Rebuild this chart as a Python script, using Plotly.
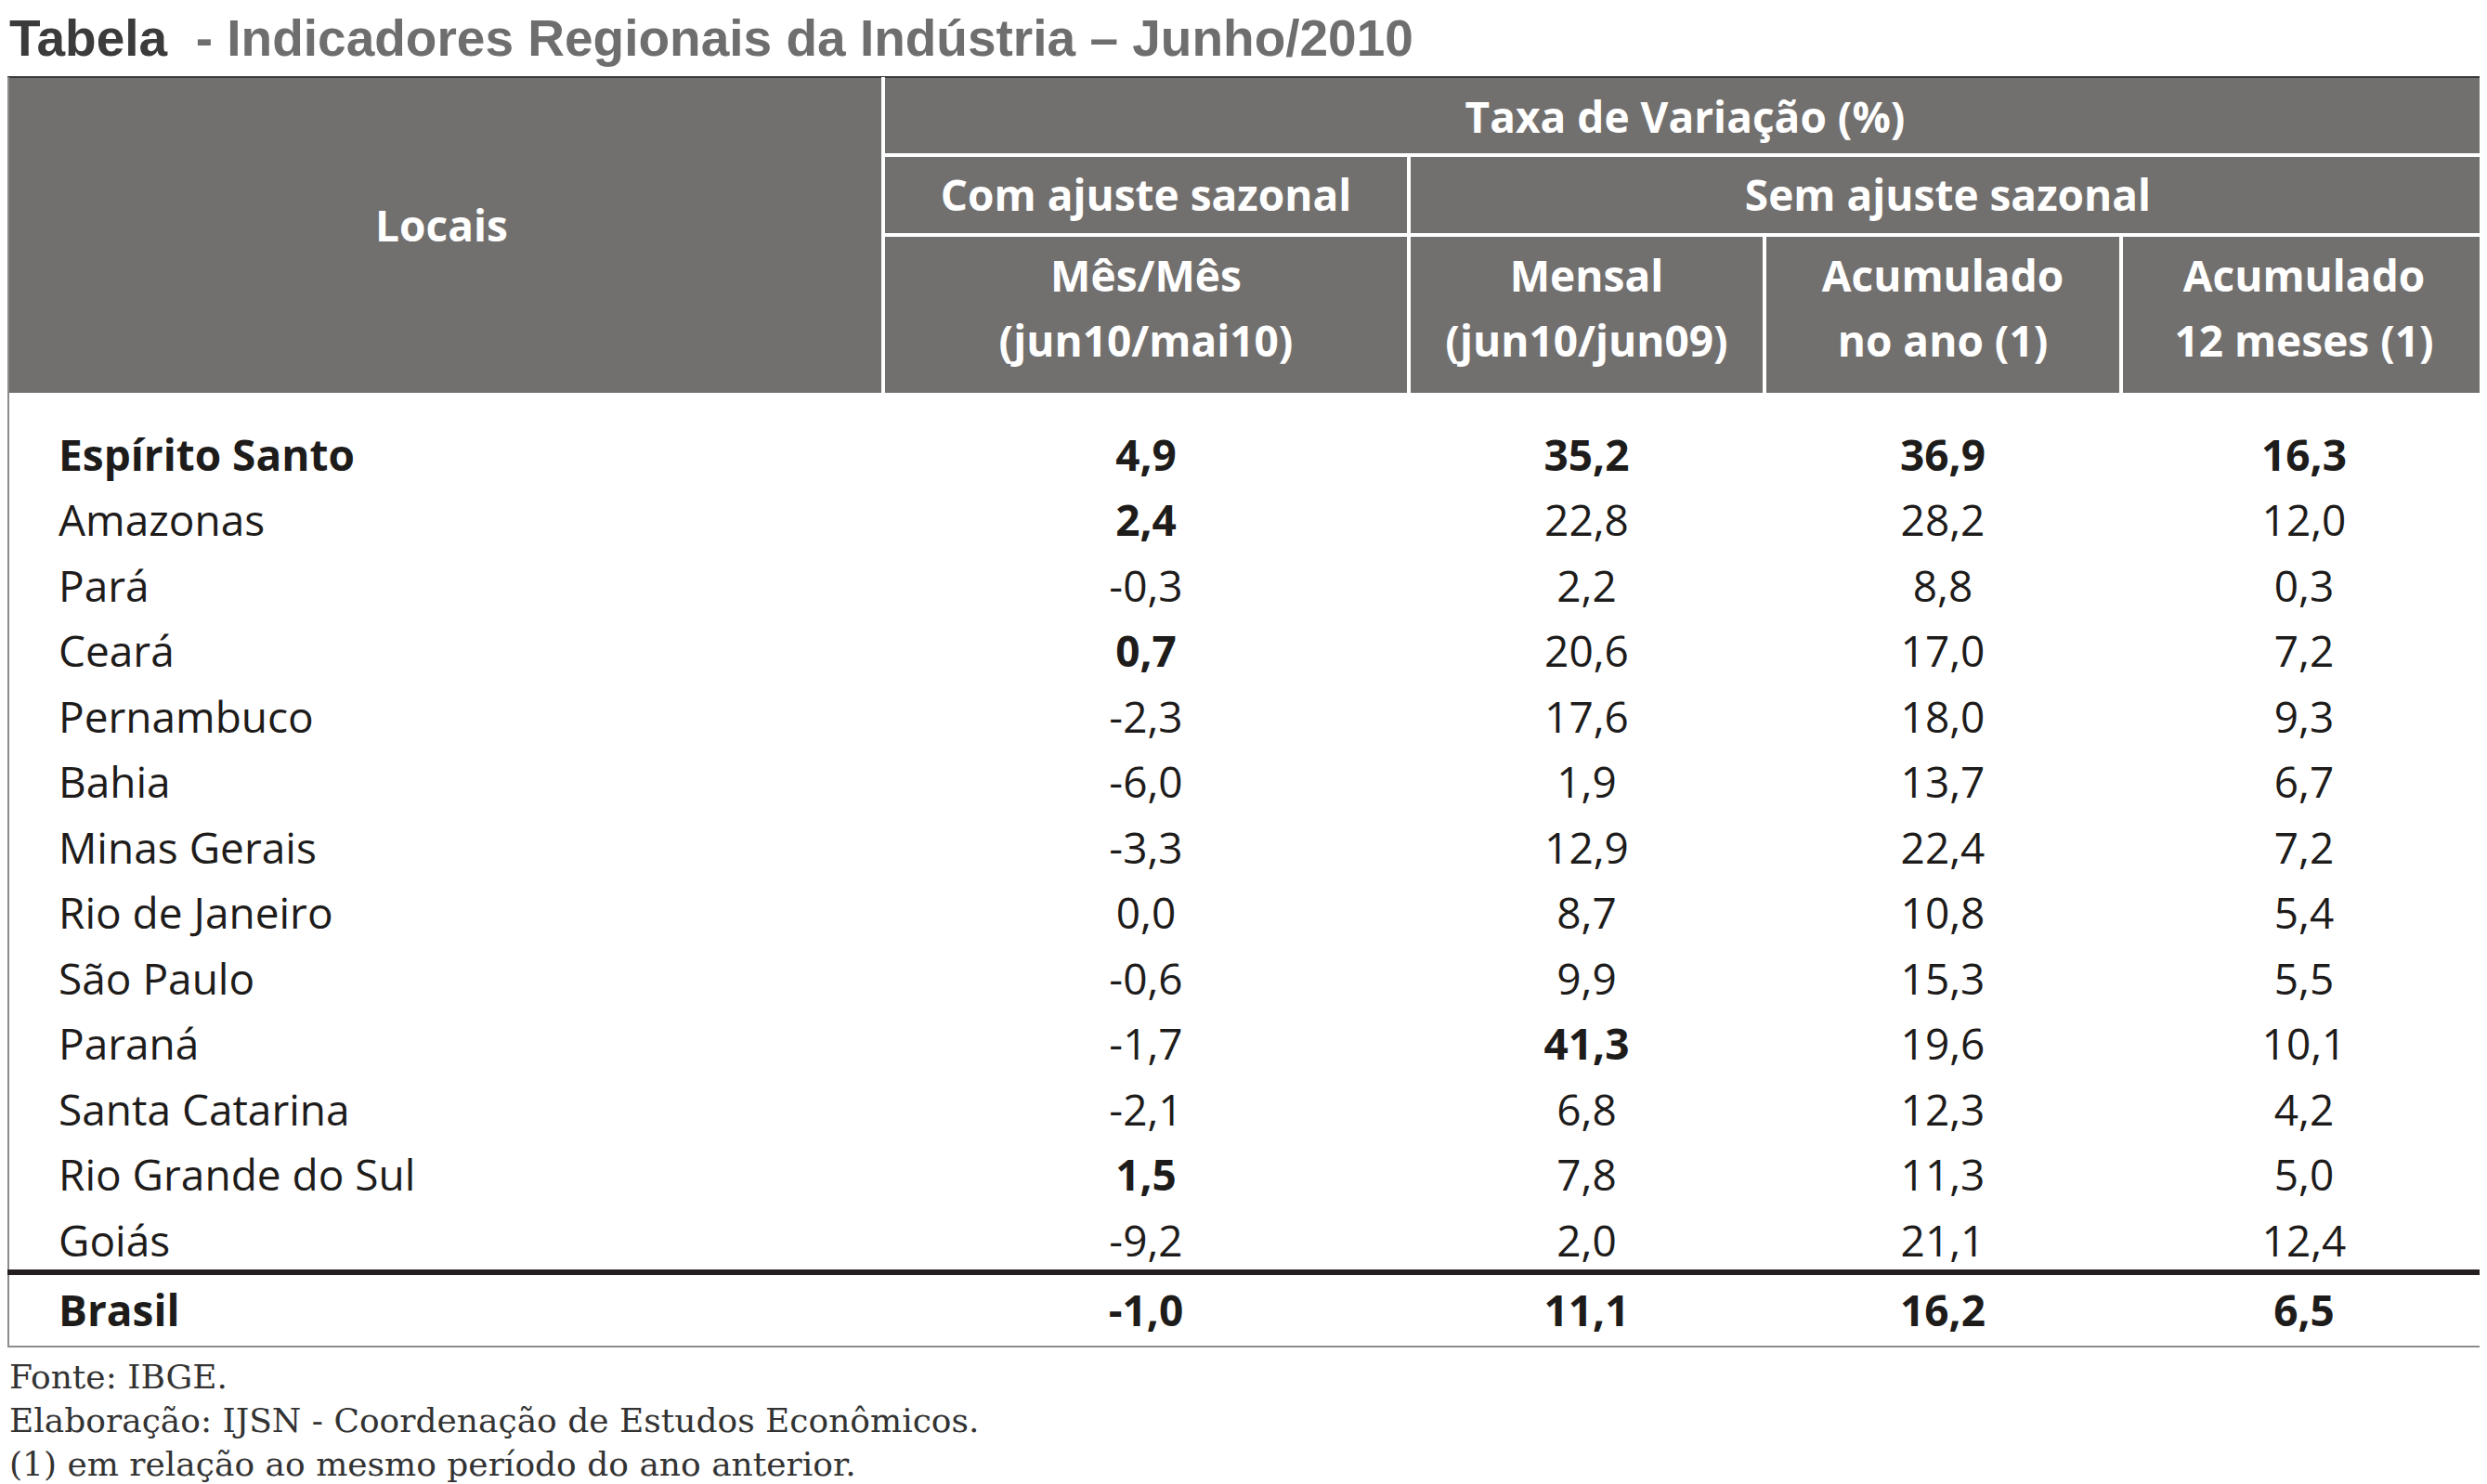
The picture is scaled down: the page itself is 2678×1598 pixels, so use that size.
import plotly.graph_objects as go

# ---------------- data ----------------
locais = ["Espírito Santo", "Amazonas", "Pará", "Ceará", "Pernambuco", "Bahia",
          "Minas Gerais", "Rio de Janeiro", "São Paulo", "Paraná", "Santa Catarina",
          "Rio Grande do Sul", "Goiás", "Brasil"]
mes_mes = [4.9, 2.4, -0.3, 0.7, -2.3, -6.0, -3.3, 0.0, -0.6, -1.7, -2.1, 1.5, -9.2, -1.0]
mensal = [35.2, 22.8, 2.2, 20.6, 17.6, 1.9, 12.9, 8.7, 9.9, 41.3, 6.8, 7.8, 2.0, 11.1]
acum_ano = [36.9, 28.2, 8.8, 17.0, 18.0, 13.7, 22.4, 10.8, 15.3, 19.6, 12.3, 11.3, 21.1, 16.2]
acum_12 = [16.3, 12.0, 0.3, 7.2, 9.3, 6.7, 7.2, 5.4, 5.5, 10.1, 4.2, 5.0, 12.4, 6.5]
# bold flags per column (highlighted cells)
bold_nome = [True] + [False] * 12 + [True]
bold_c1 = [True, True, False, True, False, False, False, False, False, False, False, True, False, True]
bold_c2 = [True, False, False, False, False, False, False, False, False, True, False, False, False, True]
bold_c3 = [True] + [False] * 12 + [True]
bold_c4 = [True] + [False] * 12 + [True]

titulo_a = "Tabela"
titulo_b = "  - Indicadores Regionais da Indústria – Junho/2010"
cab_taxa = "Taxa de Variação (%)"
cab_com = "Com ajuste sazonal"
cab_sem = "Sem ajuste sazonal"
cab_l1 = ["Mês/Mês", "Mensal", "Acumulado", "Acumulado"]
cab_l2 = ["(jun10/mai10)", "(jun10/jun09)", "no ano (1)", "12 meses (1)"]
notas = ["Fonte: IBGE.",
         "Elaboração: IJSN - Coordenação de Estudos Econômicos.",
         "(1) em relação ao mesmo período do ano anterior."]

# ---------------- layout constants ----------------
W, H = 2678, 1598
OFF = 8  # page body margin compensation
HDR_TOP, HDR_BOT = 83, 423
ROW1, ROW2 = 167, 253
XL = [0, 951, 1517, 1900, 2284, W]
BODY_Y0, BODY_DY = 495, 70.5
BRASIL_Y = 1416
SEP_Y = 1370
TBL_BOT = 1450
HDR_FILL = "#72706e"
TXT = "#1e1c1b"
FONT = "Open Sans"
FS = 46


def fmt(v):
    return f"{v:.1f}".replace(".", ",")


def b(s, flag):
    return f"<b>{s}</b>" if flag else s


fig = go.Figure()

shapes = []
shapes.append(dict(type="rect", x0=0, x1=W, y0=HDR_TOP, y1=HDR_BOT,
                   fillcolor=HDR_FILL, line=dict(width=0), layer="below"))
shapes.append(dict(type="line", x0=0, x1=W, y0=HDR_TOP, y1=HDR_TOP,
                   line=dict(color="#3a3938", width=2)))
wl = dict(color="white", width=4)
shapes.append(dict(type="line", x0=XL[1], x1=XL[1], y0=HDR_TOP, y1=HDR_BOT, line=wl))
shapes.append(dict(type="line", x0=XL[1], x1=W, y0=ROW1, y1=ROW1, line=wl))
shapes.append(dict(type="line", x0=XL[1], x1=W, y0=ROW2, y1=ROW2, line=wl))
shapes.append(dict(type="line", x0=XL[2], x1=XL[2], y0=ROW1, y1=HDR_BOT, line=wl))
shapes.append(dict(type="line", x0=XL[3], x1=XL[3], y0=ROW2, y1=HDR_BOT, line=wl))
shapes.append(dict(type="line", x0=XL[4], x1=XL[4], y0=ROW2, y1=HDR_BOT, line=wl))
gl = dict(color="#8c8c8c", width=2)
shapes.append(dict(type="line", x0=OFF + 1, x1=OFF + 1, y0=HDR_TOP, y1=TBL_BOT, line=gl))
shapes.append(dict(type="line", x0=W - 2, x1=W - 2, y0=HDR_TOP, y1=TBL_BOT, line=gl))
shapes.append(dict(type="line", x0=0, x1=W, y0=TBL_BOT, y1=TBL_BOT, line=gl))
shapes.append(dict(type="line", x0=0, x1=W, y0=SEP_Y, y1=SEP_Y,
                   line=dict(color="#231f20", width=6)))

# ---------------- header texts ----------------
centers = [(XL[i] + XL[i + 1]) / 2 for i in range(5)]
hdr_font = dict(family=FONT, size=FS, color="white")
fig.add_trace(go.Scatter(
    x=[centers[0], (XL[1] + W) / 2, centers[1], (XL[2] + W) / 2],
    y=[248, 131, 215, 215],
    text=[b("Locais", True), b(cab_taxa, True), b(cab_com, True), b(cab_sem, True)],
    mode="text", textposition="middle center", textfont=hdr_font,
    hoverinfo="skip", showlegend=False))
fig.add_trace(go.Scatter(
    x=centers[1:], y=[302] * 4, text=[b(t, True) for t in cab_l1],
    mode="text", textposition="middle center", textfont=hdr_font,
    hoverinfo="skip", showlegend=False))
fig.add_trace(go.Scatter(
    x=centers[1:], y=[372] * 4, text=[b(t, True) for t in cab_l2],
    mode="text", textposition="middle center", textfont=hdr_font,
    hoverinfo="skip", showlegend=False))

# ---------------- body ----------------
n = len(locais)
ys = [BODY_Y0 + i * BODY_DY for i in range(n - 1)] + [BRASIL_Y]
body_font = dict(family=FONT, size=FS, color=TXT)
fig.add_trace(go.Scatter(
    x=[63] * n, y=ys,
    text=[b(t, f) for t, f in zip(locais, bold_nome)],
    mode="text", textposition="middle right", textfont=body_font,
    hoverinfo="skip", showlegend=False))
for ci, (vals, flags) in enumerate([(mes_mes, bold_c1), (mensal, bold_c2),
                                    (acum_ano, bold_c3), (acum_12, bold_c4)]):
    fig.add_trace(go.Scatter(
        x=[centers[ci + 1]] * n, y=ys,
        text=[b(fmt(v), f) for v, f in zip(vals, flags)],
        mode="text", textposition="middle center", textfont=body_font,
        hoverinfo="skip", showlegend=False))

# ---------------- title ----------------
annotations = [dict(
    x=OFF, y=41, xref="x", yref="y", xanchor="left", yanchor="middle",
    text=f"<b><span style='color:#3b3b3b'>{titulo_a}</span>"
         f"<span style='color:#6e6e6e'>{titulo_b}</span></b>",
    showarrow=False, font=dict(family="Liberation Sans", size=55, color="#6e6e6e"))]

# ---------------- notes ----------------
for i, t in enumerate(notas):
    annotations.append(dict(
        x=OFF, y=1482 + i * 47, xref="x", yref="y", xanchor="left", yanchor="middle",
        text=t, showarrow=False,
        font=dict(family="DejaVu Serif", size=36, color="#333333")))

fig.update_layout(
    width=W - OFF, height=H - OFF, margin=dict(l=0, r=0, t=0, b=0),
    paper_bgcolor="white", plot_bgcolor="white",
    xaxis=dict(range=[OFF, W], visible=False, fixedrange=True),
    yaxis=dict(range=[H, OFF], visible=False, fixedrange=True),
    shapes=shapes, annotations=annotations, showlegend=False)

fig.write_html("out.html")
